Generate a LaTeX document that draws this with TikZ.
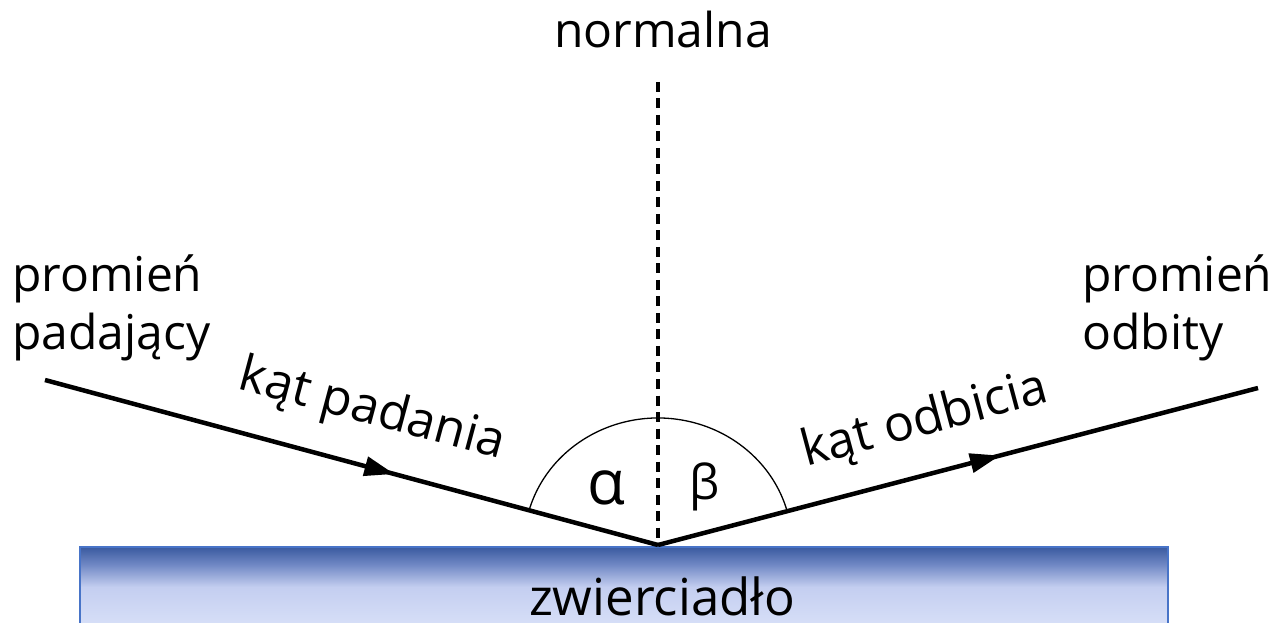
\documentclass[tikz,border=0pt]{standalone}
\usepackage{fontspec}
\setmainfont{Open Sans}
\usetikzlibrary{arrows.meta, decorations.markings}
\definecolor{mirrordark}{RGB}{58,90,160}
\definecolor{mirrorsoft}{RGB}{112,136,196}
\definecolor{mirrormid}{RGB}{196,206,240}
\definecolor{mirrorlight}{RGB}{216,224,248}
\definecolor{mirroredge}{RGB}{72,116,200}
\pgfdeclareverticalshading{mirrorfill}{100bp}{%
  color(0bp)=(mirrorlight); color(25bp)=(mirrorlight);
  color(50bp)=(mirrormid); color(64bp)=(mirrorsoft);
  color(75bp)=(mirrordark); color(100bp)=(mirrordark)}

\begin{document}
\begin{tikzpicture}[
  x=1pt, y=1pt,
  every node/.style={font=\fontsize{48}{59}\selectfont, inner sep=0pt},
  ray/.style={
    line width=4.5pt, postaction={decorate},
    decoration={markings, mark=at position 0.57 with {\arrow{Triangle[length=30pt, width=19pt]}}},
  },
  normal/.style={line width=3.2pt, dash pattern=on 10pt off 6.5pt},
  anglearc/.style={line width=1.3pt},
  sidetext/.style={align=left, anchor=base west},
  angletext/.style={font=\fontsize{50}{60}\selectfont},
]
  \useasboundingbox (0,0) rectangle (1272,622);

  % zwierciadlo
  \shadedraw[draw=mirroredge, line width=2pt, shading=mirrorfill]
    (80,-5) rectangle (1168,75);
  \node[anchor=base, font=\fontsize{51}{60}\selectfont] (mirror) at (662,7) {zwierciadło};

  \coordinate (hit)  at (658,77);
  \coordinate (src)  at (45,242);
  \coordinate (dst)  at (1258,234);
  \coordinate (ntop) at (658,540);

  \draw[normal] (ntop) -- (hit);
  \draw[anglearc] ([shift={(164:134 and 127)}]hit)
    arc[start angle=164, end angle=16.5, x radius=134, y radius=127];
  \draw[ray] (src) -- (hit);
  \draw[ray] (hit) -- (dst);

  \node[anchor=base] (normalna) at (663,574) {normalna};
  \node[sidetext] (padajacy) at (12,272) {promień\\padający};
  \node[sidetext] (odbity) at (1082,272) {promień\\odbity};
  \node[angletext, rotate=-15] (katpad) at (372,211) {kąt padania};
  \node[angletext, rotate=15] (katodb) at (925,201) {kąt odbicia};
  \node[font=\fontsize{62}{62}\selectfont] (alfa) at (606,134) {α};
  \node (beta) at (705,135) {β};
\end{tikzpicture}
\end{document}
